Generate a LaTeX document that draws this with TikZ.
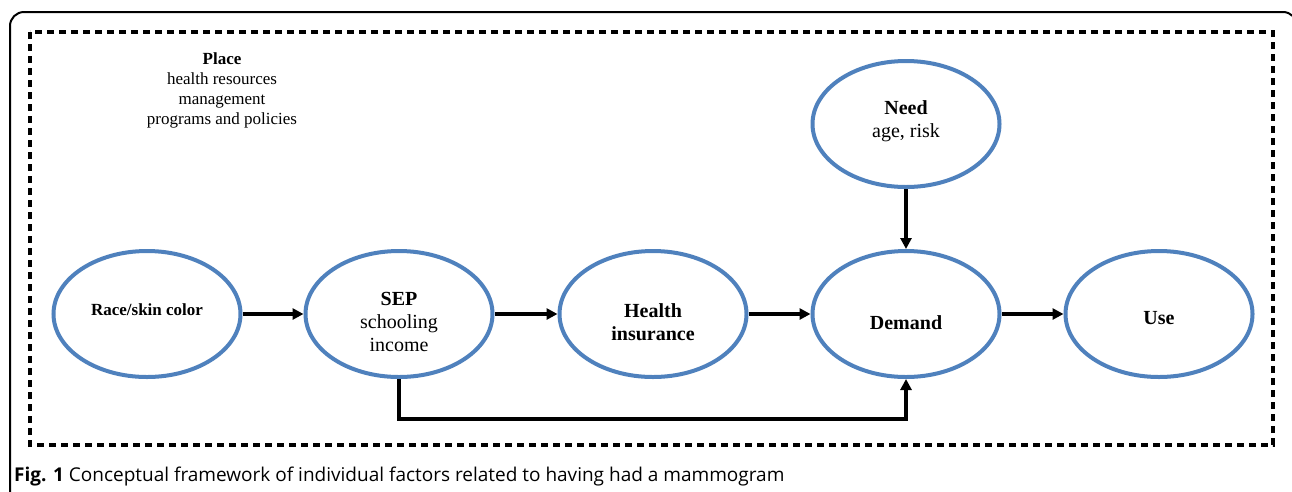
\documentclass[tikz,border=0pt]{standalone}
\usepackage{fontspec}
\setmainfont{Liberation Serif}
\newfontfamily\capfont{Open Sans}
\usetikzlibrary{shapes.geometric,arrows.meta}
\definecolor{ellblue}{RGB}{79,129,189}
\tikzset{
  ell/.style={ellipse, draw=ellblue, line width=4pt, minimum width=187pt, minimum height=126pt, inner sep=0pt},
  lbl/.style={align=center, font=\fontsize{20}{23}\selectfont, inner sep=0pt},
  conn/.style={line width=3.3pt, -{Triangle[length=11pt,width=11pt]}},
  frame/.style={line width=3.8pt, dash pattern=on 7pt off 5pt},
}
\begin{document}
\begin{tikzpicture}[x=1pt,y=-1pt]
\useasboundingbox (0,0) rectangle (1292,491);
\clip (0,0) rectangle (1292,491);
\fill[white] (0,0) rectangle (1292,491);
% outer frame
\draw[line width=2pt, rounded corners=14pt] (10,520) -- (10,12) -- (1297,12) -- (1297,520);
% dashed region
\draw[frame] (30,32) rectangle (1273,445);
% place text
\node[align=center, inner sep=0pt, font=\fontsize{17}{20}\selectfont] (place) at (222,90)
  {\textbf{Place}\\health resources\\management\\programs and policies};
% ellipses
\node[ell] (race) at (147,314) {};
\node[ell] (sep) at (399,314) {};
\node[ell] (ins) at (653,314) {};
\node[ell] (dem) at (906,314) {};
\node[ell] (need) at (906,124) {};
\node[ell] (use) at (1159,314) {};
% texts
\node[lbl, font=\fontsize{17}{20}\selectfont\bfseries] (racet) at (147,310) {Race/skin color};
\node[lbl] (sept) at ([yshift=-8pt]sep.center) {\textbf{SEP}\\schooling\\income};
\node[lbl] (inst) at ([yshift=-8pt]ins.center) {\textbf{Health}\\\textbf{insurance}};
\node[lbl, font=\fontsize{20}{23}\selectfont\bfseries] (demt) at ([yshift=-9pt]dem.center) {Demand};
\node[lbl, font=\fontsize{20}{23}\selectfont\bfseries] (uset) at ([yshift=-4pt]use.center) {Use};
\node[lbl] (needt) at ([yshift=3pt]need.center) {\textbf{Need}\\age, risk};
% connectors
\draw[conn] (race.east) -- (sep.west);
\draw[conn] (sep.east) -- (ins.west);
\draw[conn] (ins.east) -- (dem.west);
\draw[conn] (dem.east) -- (use.west);
\draw[conn] (need.south) -- (dem.north);
\draw[conn] (sep.south) -- ++(0,40) -| (dem.south);
% caption
\node[anchor=base west, inner sep=0pt, font=\capfont\fontsize{19}{22}\selectfont] (cap) at (14,481)
  {\textbf{Fig. 1} Conceptual framework of individual factors related to having had a mammogram};
\end{tikzpicture}
\end{document}
